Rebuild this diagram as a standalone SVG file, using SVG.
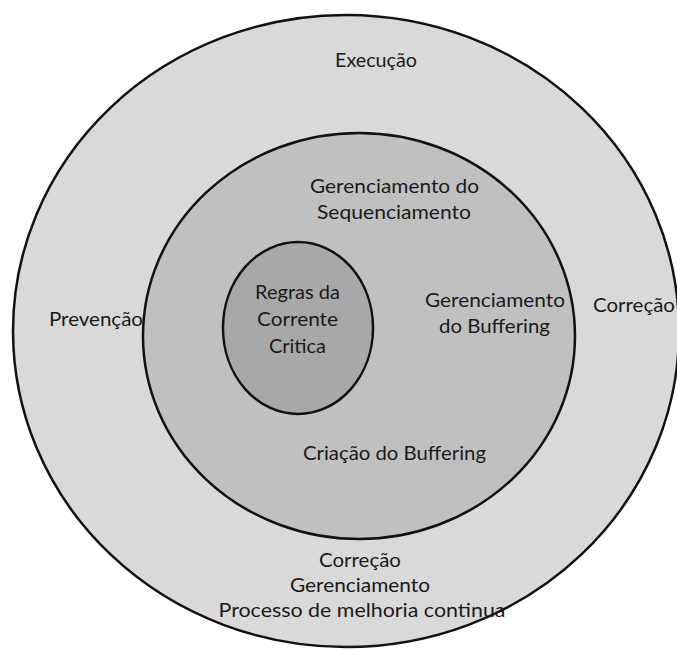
<svg xmlns="http://www.w3.org/2000/svg" width="677" height="649" viewBox="0 0 677 649">
<style>
  .ring { stroke: #111; stroke-width: 2.5; }
  .outer { fill: #d9d9d9; }
  .middle { fill: #c0c0c0; }
  .inner { fill: #a8a8a8; }
  text { font-family: Lato, "Liberation Sans", sans-serif; font-size: 19px; fill: #1a1a1a; text-anchor: middle; }
</style>
<rect width="677" height="649" fill="#ffffff"/>
<g id="ring-outer">
  <ellipse class="ring outer" cx="346" cy="331" rx="333" ry="316"/>
</g>
<g id="ring-middle">
  <ellipse class="ring middle" cx="359" cy="336" rx="216" ry="203"/>
</g>
<g id="ring-inner">
  <ellipse class="ring inner" cx="298" cy="328" rx="75" ry="86"/>
</g>
<g id="labels-inner">
  <text x="297.5" y="299" textLength="85" lengthAdjust="spacingAndGlyphs">Regras da</text>
  <text x="297.5" y="326" textLength="81" lengthAdjust="spacingAndGlyphs">Corrente</text>
  <text x="297.5" y="353" textLength="57" lengthAdjust="spacingAndGlyphs">Critica</text>
</g>
<g id="labels-middle">
  <text x="394.5" y="193" textLength="169" lengthAdjust="spacingAndGlyphs">Gerenciamento do</text>
  <text x="394" y="219" textLength="154" lengthAdjust="spacingAndGlyphs">Sequenciamento</text>
  <text x="495" y="307" textLength="140" lengthAdjust="spacingAndGlyphs">Gerenciamento</text>
  <text x="494.5" y="333" textLength="111" lengthAdjust="spacingAndGlyphs">do Buffering</text>
  <text x="394.5" y="460" textLength="183" lengthAdjust="spacingAndGlyphs">Criação do Buffering</text>
</g>
<g id="labels-outer">
  <text x="376" y="67" textLength="82" lengthAdjust="spacingAndGlyphs">Execução</text>
  <text x="96" y="326" textLength="94" lengthAdjust="spacingAndGlyphs">Prevenção</text>
  <text x="634" y="312" textLength="82" lengthAdjust="spacingAndGlyphs">Correção</text>
  <text x="360" y="567" textLength="82" lengthAdjust="spacingAndGlyphs">Correção</text>
  <text x="360" y="592" textLength="140" lengthAdjust="spacingAndGlyphs">Gerenciamento</text>
  <text x="362" y="617" textLength="287" lengthAdjust="spacingAndGlyphs">Processo de melhoria continua</text>
</g>
</svg>
